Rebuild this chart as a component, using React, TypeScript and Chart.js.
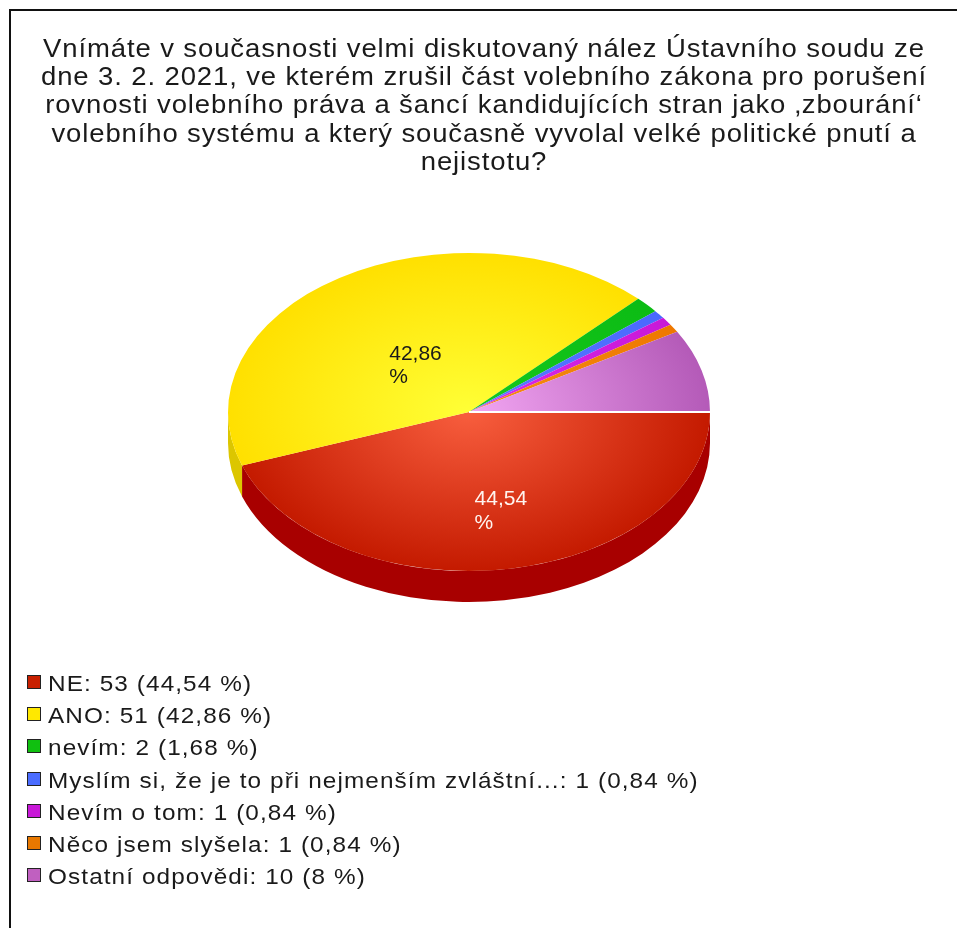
import React, { useEffect, useRef } from "react";
import { Chart, ArcElement, PieController } from "chart.js";

Chart.register(ArcElement, PieController);

// ---------- data ----------
const titleLines = [
  "Vnímáte v současnosti velmi diskutovaný nález Ústavního soudu ze",
  "dne 3. 2. 2021, ve kterém zrušil část volebního zákona pro porušení",
  "rovnosti volebního práva a šancí kandidujících stran jako ‚zbourání‘",
  "volebního systému a který současně vyvolal velké politické pnutí a",
  "nejistotu?",
];
const categories = [
  "NE",
  "ANO",
  "nevím",
  "Myslím si, že je to při nejmenším zvláštní...",
  "Nevím o tom",
  "Něco jsem slyšela",
  "Ostatní odpovědi",
];
const counts = [53, 51, 2, 1, 1, 1, 10];
const percentLabels = ["44,54", "42,86", "1,68", "0,84", "0,84", "0,84", "8"];
const percentValues = [44.54, 42.86, 1.68, 0.84, 0.84, 0.84, 8];

// ---------- styles ----------
const faceInner = ["#f85e3e", "#ffff36", "#16c81e", "#5a7cff", "#da2ae8", "#f58c14", "#f2a6f2"];
const faceOuter = ["#c41a00", "#ffe000", "#0cbc14", "#4a68ff", "#c818d8", "#ee7800", "#b45ab8"];
const sideColors = ["#a80000", "#dcc600", "#089010", "#3048c0", "#9010a0", "#b85800", "#8a3c90"];
const legendColors = ["#c82000", "#ffe800", "#10c010", "#4a6cff", "#c818d8", "#e87800", "#c060c0"];
const labelColors = ["#fff4f0", "#1a1a1a", "#1a1a1a", "#1a1a1a", "#1a1a1a", "#1a1a1a", "#1a1a1a"];

const TILT = 0.66;
const DEPTH = 31;
const RADIUS = 241;
const FONT = "'Liberation Sans', Arial, Helvetica, sans-serif";

const pie3d = {
  id: "pie3d",
  beforeDatasetsDraw(chart: any) {
    const arcs = chart.getDatasetMeta(0).data as any[];
    const ctx = chart.ctx as CanvasRenderingContext2D;
    ctx.save();
    if (!arcs.length) return;
    const { x, y, outerRadius: R } = arcs[0].getProps(["x", "y", "outerRadius"], true);
    ctx.translate(0, y);
    ctx.scale(1, TILT);
    ctx.translate(0, -y);
    const d = DEPTH / TILT;
    arcs.forEach((arc: any, i: number) => {
      const { startAngle, endAngle } = arc.getProps(["startAngle", "endAngle"], true);
      for (const off of [0, -2 * Math.PI]) {
        const s = Math.max(startAngle + off, 0);
        const e = Math.min(endAngle + off, Math.PI);
        if (e > s) {
          ctx.beginPath();
          ctx.arc(x, y, R, s, e);
          ctx.arc(x, y + d, R, e, s, true);
          ctx.closePath();
          ctx.fillStyle = sideColors[i];
          ctx.fill();
        }
      }
    });
  },
  afterDatasetsDraw(chart: any) {
    const ctx = chart.ctx as CanvasRenderingContext2D;
    ctx.restore();
    const arcs = chart.getDatasetMeta(0).data as any[];
    if (!arcs.length) return;
    const { x, y, outerRadius: R, startAngle: a0 } = arcs[0].getProps(
      ["x", "y", "outerRadius", "startAngle"],
      true
    );
    // seam between first and last slice
    ctx.save();
    ctx.strokeStyle = "#ffffff";
    ctx.lineWidth = 2;
    ctx.beginPath();
    ctx.moveTo(x, y);
    ctx.lineTo(x + (R + 1) * Math.cos(a0), y + (R + 1) * TILT * Math.sin(a0));
    ctx.stroke();
    // percentage labels
    ctx.font = `21px ${FONT}`;
    ctx.textAlign = "left";
    ctx.textBaseline = "middle";
    arcs.forEach((arc: any, i: number) => {
      if (percentValues[i] < 20) return;
      const { startAngle, endAngle } = arc.getProps(["startAngle", "endAngle"], true);
      const mid = (startAngle + endAngle) / 2;
      const px = x + 0.5 * R * Math.cos(mid);
      const py = y + 0.5 * R * TILT * Math.sin(mid);
      ctx.fillStyle = labelColors[i];
      ctx.fillText(percentLabels[i], px - 15, py + 9);
      ctx.fillText("%", px - 15, py + 9 + 23.5);
    });
    ctx.restore();
  },
};

export default function App() {
  const ref = useRef<HTMLCanvasElement | null>(null);

  useEffect(() => {
    if (!ref.current) return;
    const chart = new Chart(ref.current, {
      type: "pie",
      data: {
        labels: categories,
        datasets: [
          {
            data: counts,
            borderWidth: 0,
            clip: false as any,
            backgroundColor: (c: any) => {
              const i = c.dataIndex ?? 0;
              const area = c.chart.chartArea;
              if (!area) return faceOuter[i];
              const cx = (area.left + area.right) / 2;
              const cy = (area.top + area.bottom) / 2;
              const g = c.chart.ctx.createRadialGradient(cx, cy, 0, cx, cy, RADIUS);
              g.addColorStop(0, faceInner[i]);
              g.addColorStop(1, faceOuter[i]);
              return g;
            },
          },
        ],
      },
      options: {
        responsive: false,
        animation: false,
        events: [],
        rotation: 90,
        radius: RADIUS,
        layout: { padding: 0 },
        plugins: {
          legend: { display: false },
          tooltip: { enabled: false },
        },
      } as any,
      plugins: [pie3d as any],
    });
    return () => chart.destroy();
  }, []);

  return (
    <div>
      <div
        style={{
          position: "fixed",
          left: 9,
          top: 9,
          width: 960,
          height: 940,
          border: "2px solid #111",
          boxSizing: "border-box",
          background: "#fff",
        }}
      />
      <div
        style={{
          position: "fixed",
          left: 0,
          top: 34,
          width: 968,
          textAlign: "center",
          fontFamily: FONT,
          fontSize: 25,
          lineHeight: "28.2px",
          letterSpacing: "0.8px",
          color: "#1a1a1a",
          transform: "scaleX(1.1)",
          transformOrigin: "484px 0",
        }}
      >
        {titleLines.map((t, i) => (
          <div key={i}>{t}</div>
        ))}
      </div>
      <canvas
        ref={ref}
        width={600}
        height={500}
        style={{ position: "fixed", left: 169, top: 162, width: 600, height: 500 }}
      />
      {categories.map((c, i) => (
        <div
          key={i}
          style={{
            position: "fixed",
            left: 27,
            top: 668 + i * 32.2,
            height: 32,
            display: "flex",
            alignItems: "center",
            fontFamily: FONT,
            fontSize: 22,
            color: "#1a1a1a",
            whiteSpace: "nowrap",
          }}
        >
          <span
            style={{
              display: "inline-block",
              width: 14,
              height: 14,
              boxSizing: "border-box",
              border: "1px solid #222",
              background: legendColors[i],
              marginRight: 7,
              position: "relative",
              top: -2,
            }}
          />
          <span
            style={{
              display: "inline-block",
              letterSpacing: "1px",
              transform: "scaleX(1.105)",
              transformOrigin: "0 50%",
            }}
          >{`${c}: ${counts[i]} (${percentLabels[i]} %)`}</span>
        </div>
      ))}
    </div>
  );
}
